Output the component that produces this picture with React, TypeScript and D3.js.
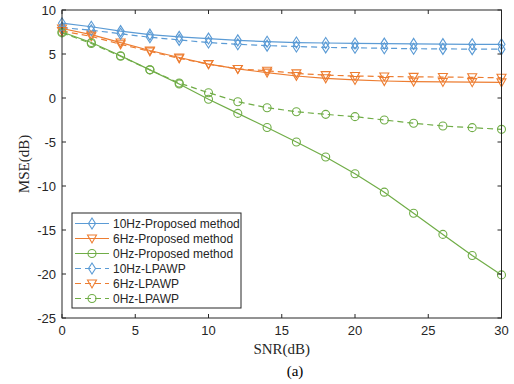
import React from "react";
import * as d3 from "d3";

const snr = [0, 2, 4, 6, 8, 10, 12, 14, 16, 18, 20, 22, 24, 26, 28, 30];
const prop10 = [8.5, 8.1, 7.6, 7.2, 6.95, 6.75, 6.55, 6.4, 6.3, 6.25, 6.2, 6.18, 6.15, 6.12, 6.1, 6.1];
const prop6 = [7.9, 7.2, 6.3, 5.4, 4.6, 3.85, 3.3, 2.88, 2.5, 2.24, 2.05, 1.93, 1.86, 1.83, 1.8, 1.78];
const prop0 = [7.5, 6.3, 4.8, 3.2, 1.6, -0.15, -1.75, -3.35, -5.0, -6.7, -8.6, -10.7, -13.1, -15.5, -17.9, -20.1];
const lp10 = [8.0, 7.7, 7.3, 6.9, 6.6, 6.3, 6.1, 5.95, 5.85, 5.75, 5.7, 5.65, 5.6, 5.58, 5.55, 5.55];
const lp6 = [7.6, 7.0, 6.1, 5.3, 4.5, 3.85, 3.3, 3.1, 2.8, 2.6, 2.5, 2.45, 2.4, 2.38, 2.35, 2.3];
const lp0 = [7.4, 6.2, 4.75, 3.2, 1.7, 0.6, -0.42, -1.1, -1.56, -1.86, -2.12, -2.5, -2.87, -3.18, -3.37, -3.56];
const xTicks = [0, 5, 10, 15, 20, 25, 30];
const yTicks = [-25, -20, -15, -10, -5, 0, 5, 10];

const BLUE = "#5B9BD5";
const ORANGE = "#ED7D31";
const GREEN = "#70AD47";

const series = [
  { name: "10Hz-Proposed method", data: prop10, color: BLUE, marker: "diamond", dashed: false },
  { name: "6Hz-Proposed method", data: prop6, color: ORANGE, marker: "tri", dashed: false },
  { name: "0Hz-Proposed method", data: prop0, color: GREEN, marker: "circle", dashed: false },
  { name: "10Hz-LPAWP", data: lp10, color: BLUE, marker: "diamond", dashed: true },
  { name: "6Hz-LPAWP", data: lp6, color: ORANGE, marker: "tri", dashed: true },
  { name: "0Hz-LPAWP", data: lp0, color: GREEN, marker: "circle", dashed: true },
];

function Marker({ type, x, y, color }: { type: string; x: number; y: number; color: string }) {
  if (type === "diamond") {
    return <path d={`M${x},${y - 5.5}L${x + 3.5},${y}L${x},${y + 5.5}L${x - 3.5},${y}Z`} fill="none" stroke={color} strokeWidth={1.1} />;
  }
  if (type === "tri") {
    return <path d={`M${x - 4.5},${y - 3.5}L${x + 4.5},${y - 3.5}L${x},${y + 4.5}Z`} fill="none" stroke={color} strokeWidth={1.1} />;
  }
  return <circle cx={x} cy={y} r={4} fill="none" stroke={color} strokeWidth={1.1} />;
}

export default function App() {
  const W = 514, H = 384;
  const L = 62, R = 501.5, T = 10, B = 318;
  const x = d3.scaleLinear().domain([0, 30]).range([L, R]);
  const y = d3.scaleLinear().domain([-25, 10]).range([B, T]);
  const line = d3.line<number>().x((_, i) => x(snr[i])).y((d) => y(d));
  const tickFont = "Liberation Sans, Arial, sans-serif";
  const serif = "Liberation Serif, Times New Roman, serif";
  const txt = "#262626";

  const legX = 72, legY = 213, legW = 169, legH = 95;
  return (
    <div style={{ position: "absolute", left: 0, top: 0 }}>
      <svg width={W} height={H} style={{ display: "block", background: "#fff" }}>
        {series.map((s, si) => (
          <g key={si}>
            <path d={line(s.data) || ""} fill="none" stroke={s.color} strokeWidth={1.2} strokeDasharray={s.dashed ? "6,4" : undefined} />
            {s.data.map((v, i) => (
              <Marker key={i} type={s.marker} x={x(snr[i])} y={y(v)} color={s.color} />
            ))}
          </g>
        ))}
        <rect x={L} y={T} width={R - L} height={B - T} fill="none" stroke="#262626" strokeWidth={1} />
        {xTicks.map((t) => (
          <g key={t}>
            <line x1={x(t)} x2={x(t)} y1={B} y2={B - 4} stroke="#262626" />
            <line x1={x(t)} x2={x(t)} y1={T} y2={T + 4} stroke="#262626" />
            <text x={x(t)} y={B + 17} textAnchor="middle" fontFamily={tickFont} fontSize={13} fill={txt}>{t}</text>
          </g>
        ))}
        {yTicks.map((t) => (
          <g key={t}>
            <line x1={L} x2={L + 4} y1={y(t)} y2={y(t)} stroke="#262626" />
            <line x1={R} x2={R - 4} y1={y(t)} y2={y(t)} stroke="#262626" />
            <text x={L - 6} y={y(t) + 4.5} textAnchor="end" fontFamily={tickFont} fontSize={13} fill={txt}>{t}</text>
          </g>
        ))}
        <text x={(L + R) / 2} y={354} textAnchor="middle" fontFamily={serif} fontSize={15} fill={txt}>SNR(dB)</text>
        <text x={295} y={376} textAnchor="middle" fontFamily={serif} fontSize={15} fill="#000">(a)</text>
        <text transform={`translate(29,${(T + B) / 2}) rotate(-90)`} textAnchor="middle" fontFamily={serif} fontSize={15} fill={txt}>MSE(dB)</text>
        <rect x={legX} y={legY} width={legW} height={legH} fill="#fff" stroke="#262626" strokeWidth={1} />
        {series.map((s, i) => {
          const ly = legY + 10.5 + i * 15;
          return (
            <g key={i}>
              <line x1={legX + 3} x2={legX + 37} y1={ly} y2={ly} stroke={s.color} strokeWidth={1.2} strokeDasharray={s.dashed ? "6,4" : undefined} />
              <Marker type={s.marker} x={legX + 20} y={ly} color={s.color} />
              <text x={legX + 41} y={ly + 4.5} fontFamily={tickFont} fontSize={12} fill={txt}>{s.name}</text>
            </g>
          );
        })}
      </svg>
    </div>
  );
}
